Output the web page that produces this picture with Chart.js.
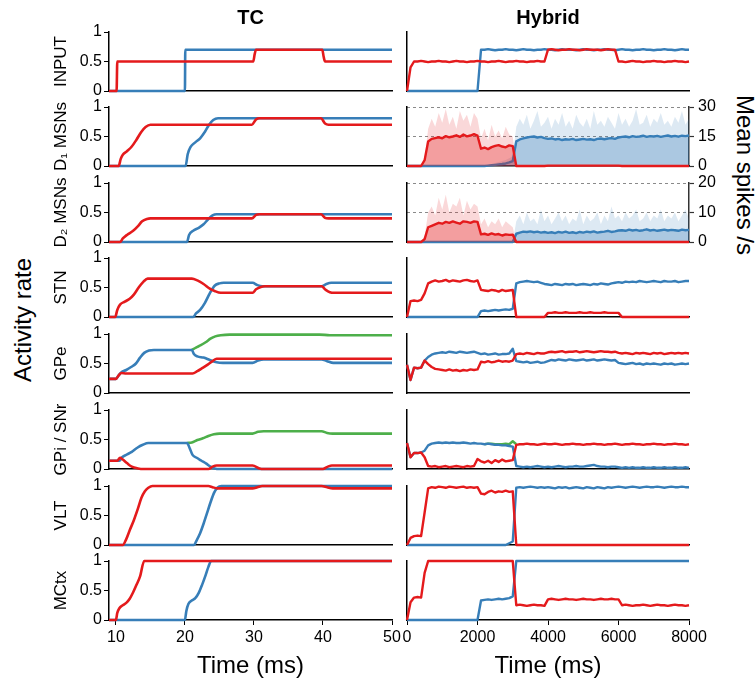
<!DOCTYPE html>
<html>
<head>
<meta charset="utf-8">
<script src="https://cdn.jsdelivr.net/npm/chart.js@4.4.1/dist/chart.umd.min.js"></script>
<style>
  html, body { margin: 0; padding: 0; background: #fff; }
  #fig { position: relative; width: 755px; height: 686px; overflow: hidden; font-family: "Liberation Sans", Arial, sans-serif; }
  #fig canvas { position: absolute; }
  .biglabel { position: absolute; font-size: 24px; line-height: 28px; white-space: nowrap; color: #000; }
  #actLabel { left: 23px; top: 320px; transform: translate(-50%, -50%) rotate(-90deg); }
  #spkLabel { left: 745px; top: 175px; transform: translate(-50%, -50%) rotate(90deg); }
</style>
</head>
<body>
<div id="fig">
  <div class="biglabel" id="actLabel">Activity rate</div>
  <div class="biglabel" id="spkLabel">Mean spikes /s</div>
</div>
<script>
// ---- tick labels / categories ----
const rowLabels = ['INPUT', 'D₁ MSNs', 'D₂ MSNs', 'STN', 'GPe', 'GPi / SNr', 'VLT', 'MCtx'];
const tcTicks = [10, 20, 30, 40, 50];
const hybridTicks = [0, 2000, 4000, 6000, 8000];
const rateTicks = [0, 0.5, 1];
const d1SpikeTicks = [0, 15, 30];
const d2SpikeTicks = [0, 10, 20];

// ---- TC (rate model), [time ms, activity] ----
const tcInputRed = [[9,0],[10.1,0],[10.2,0.5],[29.9,0.5],[30.1,0.62],[30.3,0.7],[39.9,0.7],[40.1,0.58],[40.3,0.5],[50,0.5]];
const tcInputBlue = [[9,0],[20,0],[20.05,0.7],[50,0.7]];

const tcD1Red = [[9,0],[10.4,0],[10.7,0.12],[11,0.19],[11.6,0.25],[12.3,0.33],[13,0.45],[13.7,0.58],[14.3,0.66],[15,0.7],[29.7,0.7],[30.3,0.79],[30.8,0.81],[39.7,0.81],[40.3,0.72],[40.8,0.7],[50,0.7]];
const tcD1Blue = [[9,0],[20.1,0],[20.4,0.2],[20.8,0.32],[21.5,0.4],[22.2,0.47],[22.9,0.58],[23.5,0.7],[24.1,0.78],[24.8,0.81],[50,0.81]];

const tcD2Red = [[9,0],[10.6,0],[11,0.06],[11.6,0.12],[12.5,0.19],[13.2,0.27],[13.8,0.35],[14.5,0.39],[15,0.4],[29.7,0.4],[30.3,0.46],[30.8,0.47],[39.7,0.47],[40.3,0.41],[40.8,0.4],[50,0.4]];
const tcD2Blue = [[9,0],[20.3,0],[20.6,0.12],[21.2,0.19],[22,0.24],[22.7,0.3],[23.4,0.39],[24,0.45],[24.6,0.47],[50,0.47]];

const tcStnRed = [[9,0],[9.9,0],[10.2,0.12],[10.6,0.21],[11.3,0.26],[12,0.31],[12.6,0.38],[13.3,0.5],[14,0.6],[14.6,0.65],[21,0.65],[21.8,0.62],[22.7,0.56],[23.6,0.48],[24.3,0.44],[25.2,0.41],[29.8,0.41],[30.3,0.47],[31,0.51],[31.6,0.52],[39.8,0.52],[40.4,0.46],[41,0.42],[41.6,0.41],[50,0.41]];
const tcStnBlue = [[9,0],[21.2,0],[21.6,0.06],[22.2,0.12],[22.9,0.24],[23.6,0.4],[24.3,0.53],[25,0.57],[25.6,0.58],[29.8,0.58],[30.5,0.54],[31.2,0.52],[39.8,0.52],[40.5,0.56],[41.2,0.58],[50,0.58]];

const tcGpeRed = [[9,0.24],[10,0.24],[10.4,0.3],[10.8,0.34],[11.5,0.33],[21.1,0.33],[21.8,0.37],[22.5,0.42],[23.3,0.48],[24,0.54],[24.6,0.58],[50,0.58]];
const tcGpeBlue = [[9,0.24],[10,0.24],[10.4,0.3],[10.8,0.35],[11.5,0.39],[12.2,0.44],[12.9,0.5],[13.5,0.6],[14.1,0.68],[14.8,0.72],[15.5,0.73],[21,0.73],[21.3,0.66],[21.8,0.62],[22.7,0.6],[23.6,0.56],[24.6,0.52],[25.5,0.51],[29.8,0.51],[30.6,0.55],[31.4,0.57],[39.8,0.57],[40.6,0.54],[41.5,0.51],[50,0.51]];
const tcGpeGreen = [[21,0.73],[21.6,0.77],[22.3,0.81],[23,0.86],[23.7,0.92],[24.4,0.96],[25.2,0.98],[26.5,0.99],[39.5,0.99],[41,0.98],[50,0.98]];

const tcGpiRed = [[9,0.14],[10.2,0.14],[10.6,0.19],[11,0.16],[11.6,0.1],[12.3,0.04],[13.2,0.01],[14,0],[23.4,0],[24,0.04],[24.6,0.06],[29.8,0.06],[30.8,0.01],[31.3,0],[40,0],[40.7,0.04],[41.3,0.06],[50,0.06]];
const tcGpiBlue = [[9,0.14],[10.5,0.14],[10.9,0.2],[11.5,0.24],[12.3,0.29],[13.1,0.36],[13.9,0.41],[14.7,0.44],[20.3,0.44],[20.7,0.35],[21.1,0.24],[21.7,0.19],[22.4,0.14],[23.1,0.09],[23.7,0.04],[24.3,0.01],[25,0],[50,0]];
const tcGpiGreen = [[20.3,0.44],[21,0.45],[21.8,0.49],[22.6,0.52],[23.4,0.56],[24.2,0.59],[25,0.6],[29.8,0.6],[30.6,0.63],[31.4,0.64],[39.8,0.64],[40.6,0.61],[41.4,0.6],[50,0.6]];

const tcVltRed = [[9,0],[11,0],[11.5,0.1],[12,0.25],[12.6,0.42],[13.2,0.62],[13.7,0.8],[14.2,0.91],[14.7,0.97],[15.3,1],[23.4,1],[24,0.98],[24.7,0.96],[29.8,0.96],[30.5,0.98],[31.2,1],[39.8,1],[40.6,0.98],[41.4,0.96],[50,0.96]];
const tcVltBlue = [[9,0],[21.3,0],[21.7,0.08],[22.2,0.2],[22.7,0.36],[23.2,0.54],[23.7,0.72],[24.2,0.88],[24.7,0.97],[25.3,1],[50,1]];

const tcMctxRed = [[9,0],[10,0],[10.2,0.12],[10.5,0.2],[11,0.25],[11.5,0.29],[12,0.36],[12.5,0.47],[13,0.6],[13.5,0.74],[14.1,1],[50,1]];
const tcMctxBlue = [[9,0],[20,0],[20.2,0.15],[20.5,0.27],[21,0.33],[21.5,0.37],[22,0.46],[22.5,0.6],[23,0.76],[23.4,0.9],[23.8,1],[50,1]];

// ---- Hybrid (spiking model), one value every 100 ms from 0 to 8000 ----
const hybridTimes = Array.from({length: 81}, (_, i) => i * 100);

const hyInputRed = [
  0,0.4,0.5,0.5,0.51,0.5,0.49,0.5,0.5,0.51,
  0.5,0.5,0.49,0.5,0.51,0.5,0.5,0.49,0.5,0.5,
  0.51,0.5,0.5,0.49,0.5,0.5,0.51,0.5,0.49,0.5,
  0.5,0.51,0.5,0.5,0.49,0.5,0.5,0.51,0.5,0.5,
  0.7,0.71,0.7,0.69,0.7,0.7,0.71,0.7,0.7,0.69,
  0.7,0.71,0.7,0.7,0.7,0.69,0.7,0.71,0.7,0.7,
  0.5,0.5,0.49,0.5,0.51,0.5,0.5,0.49,0.5,0.5,
  0.51,0.5,0.5,0.49,0.5,0.5,0.51,0.5,0.5,0.49,
  0.5];
const hyInputBlue = [
  0,0,0,0,0,0,0,0,0,0,
  0,0,0,0,0,0,0,0,0,0,
  0,0.7,0.7,0.71,0.7,0.69,0.7,0.7,0.71,0.7,
  0.7,0.69,0.7,0.71,0.7,0.7,0.69,0.7,0.7,0.71,
  0.7,0.7,0.69,0.7,0.71,0.7,0.7,0.7,0.69,0.7,
  0.71,0.7,0.7,0.69,0.7,0.7,0.71,0.7,0.7,0.69,
  0.7,0.71,0.7,0.7,0.69,0.7,0.7,0.71,0.7,0.7,
  0.69,0.7,0.7,0.71,0.7,0.7,0.69,0.7,0.71,0.7,
  0.7];

// D1 MSNs, mean spikes/s and the spread of single-trial peaks
const hyD1Red = [
  0,0,0,0,0,3,12.5,13.8,14.2,14.6,
  14.1,15.2,14.6,15,15.6,14.8,16,15.1,15.5,16.2,
  15.4,8.8,9.4,8.6,9.6,10.2,10.6,9.9,9.5,10.5,
  10.1,0,0,0,0,0,0,0,0,0,
  0.2,0.2,0.2,0.2,0.2,0.2,0.2,0.2,0.2,0.2,
  0.2,0.2,0.2,0.2,0.2,0.2,0.2,0.2,0.2,0.2,
  0.2,0,0,0,0,0,0,0,0,0,
  0,0,0,0,0,0,0,0,0,0,
  0];
const hyD1RedSpread = [
  0,0,0,0,0,4,19,24,20,27,
  22,29,21,25,19,28,23,26,20,27,
  24,14,19,13,21,15,18,14,20,16,
  15,0,0,0,0,0,0,0,0,0,
  0,0,0,0,0,0,0,0,0,0,
  0,0,0,0,0,0,0,0,0,0,
  0,0,0,0,0,0,0,0,0,0,
  0,0,0,0,0,0,0,0,0,0,
  0];
const hyD1Blue = [
  0,0,0,0,0,0,0,0,0,0,
  0,0,0,0,0,0,0,0,0,0,
  0,0,0,0.2,0.4,0.6,0.8,1,1.3,1.8,
  2.5,12.5,13.5,14,14.5,14.8,15,14.5,14.8,14.2,
  13.8,14,13.5,13.8,13.2,13.6,13.4,13.8,13.2,13.5,
  13.8,13.4,13.6,13.2,13.8,14,13.6,14,14.2,13.8,
  14.5,14.8,15,14.6,15.2,14.8,15,15.4,14.8,15.2,
  15,15.3,14.8,15.2,15.5,15,15.3,14.9,15.4,15.2,
  15.5];
const hyD1BlueSpread = [
  0,0,0,0,0,0,0,0,0,0,
  0,0,0,0,0,0,0,0,0,0,
  0,0,0,0.5,1,1.5,2,2.5,3,4,
  5,20,24,21,26,19,23,28,20,22,
  25,19,24,21,27,20,23,19,26,22,
  20,24,19,28,21,23,20,25,22,19,
  27,21,24,20,23,29,21,22,26,20,
  24,22,27,21,23,20,25,22,28,21,
  24];

// D2 MSNs
const hyD2Red = [
  0,0,0,0,0,1,5,5.5,6,6.5,
  6.2,6.8,6.5,7,6.6,6.2,7,6.8,6.5,7,
  6.8,2.6,2.8,2.4,2.9,2.5,2.7,2.2,2.6,2.4,
  2.5,0,0,0,0,0,0,0,0,0,
  0,0,0,0,0,0,0,0,0,0,
  0,0,0,0,0,0,0,0,0,0,
  0,0,0,0,0,0,0,0,0,0,
  0,0,0,0,0,0,0,0,0,0,
  0];
const hyD2RedSpread = [
  0,0,0,0,0,2,10,12,9,15,
  11,16,10,13,12,15,9,14,11,13,
  12,6,8,5,7,6,8,5,7,6,
  5,0,0,0,0,0,0,0,0,0,
  0,0,0,0,0,0,0,0,0,0,
  0,0,0,0,0,0,0,0,0,0,
  0,0,0,0,0,0,0,0,0,0,
  0,0,0,0,0,0,0,0,0,0,
  0];
const hyD2Blue = [
  0,0,0,0,0,0,0,0,0,0,
  0,0,0,0,0,0,0,0,0,0,
  0,0,0,0,0,0,0,0,0,0,
  0,2.8,3.2,3.5,3.4,3.6,3.3,3.5,3.2,3.4,
  3.1,3.3,3.0,3.4,3.2,3.5,3.1,3.3,3.0,3.4,
  3.2,3.5,3.3,3.6,3.2,3.4,3.5,3.8,3.4,3.6,
  3.9,4.0,3.8,4.2,3.9,4.1,3.8,4.0,4.3,3.9,
  4.1,3.8,4.0,4.2,3.9,4.1,4.0,3.8,4.2,4.0,
  4.1];
const hyD2BlueSpread = [
  0,0,0,0,0,0,0,0,0,0,
  0,0,0,0,0,0,0,0,0,0,
  0,0,0,0,0,0,0,0,0,0,
  0,7,9,6,10,7,8,6,11,7,
  9,6,8,10,7,9,6,8,7,11,
  6,9,7,8,10,6,9,7,12,8,
  9,7,10,8,9,11,7,8,10,7,
  9,8,11,7,9,8,10,7,9,11,
  8];

const hyStnRed = [
  0,0.27,0.28,0.27,0.29,0.4,0.57,0.6,0.62,0.6,
  0.61,0.63,0.6,0.62,0.61,0.6,0.62,0.63,0.61,0.6,
  0.62,0.46,0.45,0.44,0.46,0.45,0.43,0.46,0.44,0.45,
  0.46,0,0,0,0,0,0,0,0,0,
  0.07,0.07,0.08,0.07,0.07,0.08,0.07,0.07,0.07,0.08,
  0.07,0.07,0.08,0.07,0.07,0.07,0.08,0.07,0.07,0.07,
  0.07,0,0,0,0,0,0,0,0,0,
  0,0,0,0,0,0,0,0,0,0,
  0];
const hyStnBlue = [
  0,0,0,0,0,0,0,0,0,0,
  0,0,0,0,0,0,0,0,0,0,
  0,0.1,0.11,0.1,0.11,0.12,0.11,0.12,0.13,0.12,
  0.14,0.57,0.59,0.6,0.61,0.6,0.59,0.6,0.58,0.56,
  0.55,0.54,0.56,0.55,0.54,0.56,0.55,0.56,0.54,0.55,
  0.56,0.55,0.54,0.56,0.55,0.57,0.56,0.55,0.57,0.58,
  0.59,0.58,0.6,0.59,0.6,0.59,0.61,0.6,0.59,0.6,
  0.61,0.6,0.59,0.61,0.6,0.6,0.61,0.59,0.6,0.61,
  0.61];

const hyGpeRed = [
  0.48,0.22,0.43,0.42,0.43,0.55,0.49,0.44,0.41,0.4,
  0.39,0.38,0.4,0.38,0.39,0.37,0.39,0.38,0.4,0.39,
  0.4,0.53,0.52,0.54,0.52,0.53,0.55,0.53,0.54,0.53,
  0.55,0.66,0.67,0.66,0.68,0.67,0.66,0.68,0.67,0.67,
  0.69,0.7,0.69,0.7,0.71,0.69,0.7,0.7,0.71,0.69,
  0.7,0.71,0.7,0.69,0.7,0.71,0.7,0.7,0.69,0.7,
  0.68,0.67,0.68,0.67,0.66,0.68,0.67,0.68,0.67,0.66,
  0.68,0.67,0.68,0.66,0.67,0.68,0.67,0.68,0.67,0.68,
  0.67];
const hyGpeBlue = [
  0.48,0.22,0.43,0.42,0.43,0.55,0.61,0.65,0.67,0.68,
  0.69,0.68,0.7,0.69,0.68,0.7,0.69,0.68,0.69,0.7,
  0.68,0.66,0.67,0.65,0.66,0.67,0.65,0.66,0.66,0.67,
  0.75,0.54,0.53,0.52,0.53,0.51,0.52,0.53,0.51,0.52,
  0.54,0.56,0.55,0.57,0.56,0.55,0.57,0.56,0.55,0.56,
  0.57,0.55,0.56,0.57,0.55,0.56,0.57,0.56,0.55,0.56,
  0.51,0.5,0.49,0.5,0.51,0.49,0.5,0.48,0.5,0.49,
  0.5,0.49,0.48,0.5,0.49,0.5,0.48,0.49,0.5,0.49,
  0.5];

const hyGpiRed = [
  0.44,0.2,0.27,0.27,0.28,0.2,0.05,0.04,0.05,0.03,
  0.04,0.05,0.03,0.04,0.05,0.04,0.03,0.05,0.04,0.05,
  0.17,0.13,0.11,0.14,0.1,0.15,0.12,0.16,0.13,0.14,
  0.15,0.41,0.42,0.42,0.43,0.42,0.42,0.41,0.42,0.43,
  0.42,0.42,0.43,0.42,0.41,0.42,0.42,0.43,0.42,0.42,
  0.41,0.42,0.42,0.43,0.42,0.42,0.41,0.42,0.42,0.43,
  0.42,0.41,0.42,0.42,0.43,0.42,0.42,0.41,0.42,0.42,
  0.43,0.42,0.42,0.41,0.42,0.42,0.43,0.42,0.42,0.41,
  0.42];
const hyGpiBlue = [
  0.44,0.2,0.27,0.27,0.28,0.31,0.4,0.43,0.44,0.45,
  0.44,0.45,0.44,0.45,0.44,0.44,0.45,0.44,0.43,0.44,
  0.43,0.43,0.42,0.43,0.42,0.41,0.41,0.4,0.4,0.39,
  0.38,0.05,0.04,0.03,0.04,0.03,0.04,0.05,0.04,0.03,
  0.04,0.03,0.04,0.05,0.04,0.03,0.04,0.04,0.05,0.04,
  0.04,0.05,0.06,0.07,0.05,0.04,0.04,0.03,0.04,0.04,
  0.03,0.02,0.03,0.02,0.03,0.02,0.02,0.03,0.02,0.02,
  0.03,0.02,0.02,0.03,0.02,0.02,0.03,0.02,0.02,0.03,
  0.02];
const hyGpiGreen = [[2200,0.42],[2300,0.43],[2400,0.43],[2500,0.42],[2600,0.42],[2700,0.42],[2800,0.43],[2900,0.42],[3000,0.47],[3100,0.42]];

const hyVltRed = [
  0,0.12,0.15,0.16,0.15,0.55,0.96,0.98,0.97,0.99,
  0.98,0.97,0.99,0.98,0.97,0.98,0.99,0.97,0.98,0.97,
  0.98,0.87,0.86,0.9,0.92,0.89,0.91,0.9,0.92,0.9,
  0.91,0,0,0,0,0,0,0,0,0,
  0,0,0,0,0,0,0,0,0,0,
  0,0,0,0,0,0,0,0,0,0,
  0,0,0,0,0,0,0,0,0,0,
  0,0,0,0,0,0,0,0,0,0,
  0];
const hyVltBlue = [
  0,0,0,0,0,0,0,0,0,0,
  0,0,0,0,0,0,0,0,0,0,
  0,0,0,0,0,0,0,0,0,0.03,
  0.06,0.97,0.98,0.97,0.98,0.99,0.98,0.97,0.98,0.97,
  0.98,0.97,0.96,0.98,0.97,0.98,0.96,0.97,0.98,0.97,
  0.96,0.98,0.97,0.96,0.98,0.97,0.96,0.98,0.97,0.98,
  0.99,0.98,0.97,0.98,0.99,0.98,0.97,0.98,0.99,0.98,
  0.98,0.99,0.98,0.97,0.98,0.99,0.98,0.98,0.99,0.98,
  0.98];

const hyMctxRed = [
  0,0.3,0.38,0.39,0.38,0.8,1,1,1,1,
  1,1,1,1,1,1,1,1,1,1,
  1,1,1,1,1,1,1,1,1,1,
  1,0.25,0.26,0.25,0.24,0.25,0.26,0.25,0.25,0.24,
  0.35,0.36,0.35,0.34,0.35,0.36,0.35,0.35,0.34,0.35,
  0.36,0.35,0.35,0.34,0.35,0.36,0.35,0.35,0.36,0.35,
  0.35,0.25,0.26,0.25,0.24,0.25,0.25,0.26,0.25,0.24,
  0.25,0.26,0.25,0.25,0.24,0.25,0.26,0.25,0.25,0.24,
  0.25];
const hyMctxBlue = [
  0,0,0,0,0,0,0,0,0,0,
  0,0,0,0,0,0,0,0,0,0,
  0,0.33,0.34,0.35,0.34,0.35,0.36,0.35,0.36,0.37,
  0.4,1,1,1,1,1,1,1,1,1,
  1,1,1,1,1,1,1,1,1,1,
  1,1,1,1,1,1,1,1,1,1,
  1,1,1,1,1,1,1,1,1,1,
  1,1,1,1,1,1,1,1,1,1,
  1];

// ---- styling / layout ----
const RED = '#e41a1c', BLUE = '#377eb8', GREEN = '#4daf4a';
const RED_FILL = 'rgba(228,26,28,0.3)', BLUE_FILL = 'rgba(55,126,184,0.3)';
const RED_SPREAD = 'rgba(228,26,28,0.17)', BLUE_SPREAD = 'rgba(55,126,184,0.17)';
const FONT = '"Liberation Sans", Arial, sans-serif';
const ROW_TOP = [32, 107, 183, 258, 334, 410, 486, 561];
const AREA_H = 59;

Chart.defaults.font.family = FONT;
Chart.defaults.color = '#000';

const columns = {
  tc: {left: 40, width: 372, axisW: 69, padRight: 20, min: 9, max: 50, ticks: tcTicks, title: 'TC'},
  hybrid: {left: 398, width: 357, axisW: 9, padRight: 66, min: 0, max: 8000, ticks: hybridTicks, title: 'Hybrid'}
};

const fig = document.getElementById('fig');

function pairs(list) {
  return list.map(p => ({x: p[0], y: p[1]}));
}
function onGrid(values) {
  return values.map((v, i) => ({x: hybridTimes[i], y: v}));
}
function fixTicks(values) {
  return scale => { scale.ticks = values.map(v => ({value: v})); };
}

function trace(data, color, smooth, extra) {
  return Object.assign({
    data: data,
    borderColor: color,
    backgroundColor: color,
    borderWidth: 2.6,
    pointRadius: 0,
    fill: false,
    clip: 3,
    borderJoinStyle: 'round',
    cubicInterpolationMode: smooth ? 'monotone' : 'default',
    tension: 0
  }, extra || {});
}

function spread(data, color) {
  return {data: data, borderWidth: 0, borderColor: 'rgba(0,0,0,0)', backgroundColor: color,
          pointRadius: 0, fill: 'origin', tension: 0, yAxisID: 'y2'};
}

function buildPanel(colKey, row, datasets, spikeAxis) {
  const col = columns[colKey];
  const first = row === 0;
  const last = row === ROW_TOP.length - 1;
  const isTc = colKey === 'tc';
  const headH = first ? ROW_TOP[0] : 14;
  const xH = last ? 64 : 0;
  const padBottom = last ? 0 : 14;

  const canvas = document.createElement('canvas');
  canvas.width = col.width;
  canvas.height = headH + AREA_H + xH + padBottom;
  canvas.style.left = col.left + 'px';
  canvas.style.top = (ROW_TOP[row] - headH) + 'px';
  fig.appendChild(canvas);

  const scales = {
    x: {
      type: 'linear', position: 'bottom', min: col.min, max: col.max,
      afterBuildTicks: fixTicks(col.ticks),
      afterFit: s => { s.height = xH; s.paddingLeft = 0; s.paddingRight = 0; },
      border: {display: true, color: '#000', width: 1.5},
      grid: {display: last, drawOnChartArea: false, drawTicks: last, tickLength: 5, color: '#000'},
      ticks: {display: last, autoSkip: false, maxRotation: 0, padding: 3, font: {size: 16}, callback: v => String(v)},
      title: {display: last, text: 'Time (ms)', font: {size: 24}, padding: {top: 0, bottom: 3}}
    },
    y: {
      type: 'linear', position: 'left', min: 0, max: 1, display: true,
      afterBuildTicks: fixTicks(rateTicks),
      afterFit: s => { s.width = col.axisW; s.paddingTop = 0; s.paddingBottom = 0; },
      border: {display: true, color: '#000', width: 1.5},
      grid: {display: isTc, drawOnChartArea: false, drawTicks: isTc, tickLength: 5, color: '#000'},
      ticks: {display: isTc, autoSkip: false, padding: 2, font: {size: 16}, callback: v => String(v)},
      title: {display: isTc, text: rowLabels[row], font: {size: 17}, padding: {top: 11, bottom: 0}}
    }
  };
  let padRight = col.padRight;
  if (spikeAxis) {
    padRight = 26;
    scales.y2 = {
      type: 'linear', position: 'right', min: 0, max: spikeAxis[spikeAxis.length - 1],
      afterBuildTicks: fixTicks(spikeAxis),
      afterFit: s => { s.width = 40; s.paddingTop = 0; s.paddingBottom = 0; },
      border: {display: true, color: '#333', width: 1.5, dash: [3, 3]},
      grid: {
        display: true, drawOnChartArea: true, drawTicks: true, tickLength: 5, lineWidth: 1,
        color: c => (c.tick && c.tick.value === 0) ? 'rgba(0,0,0,0)' : '#8a8a8a',
        tickColor: '#333', tickWidth: 1.2
      },
      ticks: {autoSkip: false, padding: 4, font: {size: 16}, callback: v => String(v)}
    };
  }

  return new Chart(canvas, {
    type: 'line',
    data: {datasets: datasets},
    options: {
      responsive: false,
      animation: false,
      events: [],
      layout: {padding: {left: 0, right: padRight, top: first ? 0 : headH, bottom: padBottom}},
      plugins: {
        legend: {display: false},
        tooltip: {enabled: false},
        title: {
          display: first, text: col.title, fullSize: false, color: '#000',
          font: {size: 20, weight: 'bold'}, padding: {top: 6, bottom: 2}
        }
      },
      scales: scales
    }
  });
}

// ---- TC column ----
const tcRows = [
  [tcInputRed, tcInputBlue],
  [tcD1Red, tcD1Blue],
  [tcD2Red, tcD2Blue],
  [tcStnRed, tcStnBlue],
  [tcGpeRed, tcGpeBlue, tcGpeGreen],
  [tcGpiRed, tcGpiBlue, tcGpiGreen],
  [tcVltRed, tcVltBlue],
  [tcMctxRed, tcMctxBlue]
];
const lineColors = [RED, BLUE, GREEN];
tcRows.forEach((series, row) => {
  buildPanel('tc', row, series.map((s, k) => trace(pairs(s), lineColors[k], true)));
});

// ---- Hybrid column ----
const hyRows = [
  [hyInputRed, hyInputBlue],
  null,
  null,
  [hyStnRed, hyStnBlue],
  [hyGpeRed, hyGpeBlue],
  [hyGpiRed, hyGpiBlue],
  [hyVltRed, hyVltBlue],
  [hyMctxRed, hyMctxBlue]
];
hyRows.forEach((series, row) => {
  if (!series) return;
  const sets = series.map((s, k) => trace(onGrid(s), lineColors[k], false, {borderWidth: 2.4}));
  if (row === 5) sets.push(trace(pairs(hyGpiGreen), GREEN, false, {borderWidth: 2.4}));
  buildPanel('hybrid', row, sets);
});

buildPanel('hybrid', 1, [
  trace(onGrid(hyD1Red), RED, false, {borderWidth: 2.4, fill: 'origin', backgroundColor: RED_FILL, yAxisID: 'y2'}),
  trace(onGrid(hyD1Blue), BLUE, false, {borderWidth: 2.4, fill: 'origin', backgroundColor: BLUE_FILL, yAxisID: 'y2'}),
  spread(onGrid(hyD1RedSpread), RED_SPREAD),
  spread(onGrid(hyD1BlueSpread), BLUE_SPREAD)
], d1SpikeTicks);

buildPanel('hybrid', 2, [
  trace(onGrid(hyD2Red), RED, false, {borderWidth: 2.4, fill: 'origin', backgroundColor: RED_FILL, yAxisID: 'y2'}),
  trace(onGrid(hyD2Blue), BLUE, false, {borderWidth: 2.4, fill: 'origin', backgroundColor: BLUE_FILL, yAxisID: 'y2'}),
  spread(onGrid(hyD2RedSpread), RED_SPREAD),
  spread(onGrid(hyD2BlueSpread), BLUE_SPREAD)
], d2SpikeTicks);
</script>
</body>
</html>
